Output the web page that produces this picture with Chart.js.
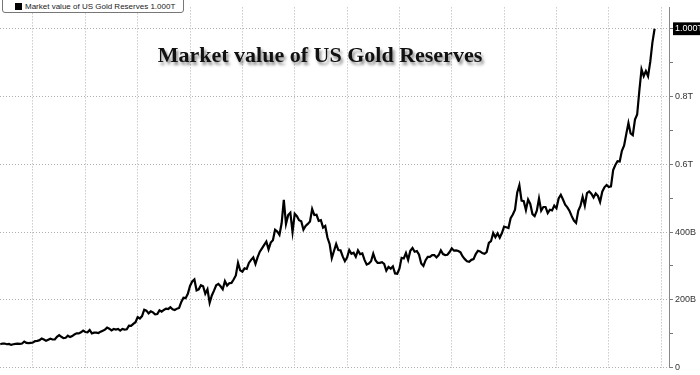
<!DOCTYPE html>
<html>
<head>
<meta charset="utf-8">
<script src="https://cdn.jsdelivr.net/npm/chart.js@4"></script>
<style>
  html, body { margin: 0; padding: 0; background: #fff; }
  #wrap { position: relative; width: 700px; height: 375px; }
  #legend {
    position: absolute; left: 2px; top: -3px; height: 16px; width: 182px;
    border: 1px solid #777; border-radius: 3px; background: #fff;
    font: 8px "Liberation Sans", Arial, sans-serif; color: #222;
    box-sizing: border-box; padding: 4px 0 0 4px; white-space: nowrap;
  }
  #legend .sw { display: inline-block; width: 7px; height: 7px; background: #000; vertical-align: -1px; margin: 0 3px 0 8px; }
  #title {
    position: absolute; left: 0; width: 640px; top: 42px; text-align: center;
    font: bold 22px "Liberation Serif", "Times New Roman", serif; color: #111;
    text-shadow: 2px 3px 3px rgba(0,0,0,0.45);
  }
</style>
</head>
<body>
<div id="wrap">
  <canvas id="chart" width="700" height="375"></canvas>
  <div id="legend"><span class="sw"></span>Market value of US Gold Reserves 1.000T</div>
  <div id="title">Market value of US Gold Reserves</div>
</div>
<script>
// monthly market value, billions USD, starting Oct 2000
const startYear = 2000.75;
const values2000s = [
  69, 71, 71,
  69, 70, 67, 69, 70, 71, 70, 71, 77, 73, 72, 73,
  74, 78, 79, 81, 86, 83, 79, 82, 85, 83, 83, 91,
  96, 91, 87, 88, 94, 90, 93, 98, 101, 101, 104, 109,
  105, 104, 111, 101, 103, 103, 102, 106, 109, 112, 118, 115,
  110, 114, 112, 114, 109, 114, 112, 113, 124, 123, 129, 134,
  149, 145, 152, 171, 168, 160, 166, 163, 157, 158, 169, 165,
  170, 174, 173, 178, 172, 170, 174, 176, 194, 206, 205, 218,
  241, 254, 260, 228, 231, 243, 240, 218, 231, 191, 213, 227,
  243, 247, 240, 231, 255, 242, 249, 250, 260, 272, 309, 287
];
const values2010s = [
  283, 293, 291, 309, 318, 325, 306, 326, 342, 352, 362, 372,
  349, 369, 376, 407, 402, 392, 426, 495, 424, 450, 457, 400,
  454, 447, 435, 432, 407, 418, 424, 431, 468, 450, 451, 433,
  435, 413, 418, 384, 365, 323, 344, 365, 347, 346, 328, 314,
  325, 347, 336, 339, 327, 346, 335, 337, 318, 304, 307, 314,
  336, 317, 309, 309, 311, 306, 286, 297, 292, 299, 278, 277,
  292, 324, 322, 338, 318, 345, 353, 342, 344, 333, 307, 300,
  317, 327, 327, 332, 332, 325, 332, 346, 335, 332, 333, 341,
  352, 345, 346, 344, 340, 328, 320, 314, 312, 318, 320, 335,
  345, 343, 338, 336, 341, 368, 373, 397, 385, 396, 383, 397
];
const values2020s = [
  416, 414, 412, 441, 452, 466, 516, 538, 493, 491, 465, 496,
  483, 453, 447, 463, 499, 463, 474, 474, 456, 466, 464, 478,
  470, 499, 510, 496, 481, 473, 462, 447, 434, 427, 463, 477,
  504, 478, 515, 520, 513, 502, 514, 507, 489, 519, 532, 539,
  533, 535, 583, 598, 609, 608, 640, 655, 689, 722, 691, 686,
  732, 747, 817, 880, 860, 875, 860, 902, 960, 1000
];
const values = values2000s.concat(values2010s, values2020s);

const yTicks = [0, 100, 200, 300, 400, 500, 600, 700, 800, 900, 1000];
const yLabels = { 0: '0', 200: '200B', 400: '400B', 600: '0.6T', 800: '0.8T', 1000: '1.000T' };
const xGridYears = [2002, 2004, 2006, 2008, 2010, 2012, 2014, 2016, 2018, 2020, 2022, 2024, 2026];

const points = values.map((v, i) => ({ x: startYear + i / 12, y: v }));

new Chart(document.getElementById('chart'), {
  type: 'line',
  data: {
    datasets: [{
      data: points,
      borderColor: '#000',
      borderWidth: 2.2,
      pointRadius: 0,
      tension: 0,
      fill: false
    }]
  },
  options: {
    responsive: false,
    animation: false,
    layout: { padding: 0 },
    plugins: { legend: { display: false }, tooltip: { enabled: false } },
    scales: {
      x: {
        type: 'linear',
        min: 2000.74,
        max: 2026.3,
        afterBuildTicks: s => { s.ticks = xGridYears.map(v => ({ value: v })); },
        afterFit: s => { s.height = 5; },
        ticks: { display: false },
        grid: { color: '#b0b0b0', lineWidth: 1, drawTicks: false },
        border: { display: false, dash: [1, 2] }
      },
      y: {
        position: 'right',
        min: 0,
        max: 1063,
        afterBuildTicks: s => { s.ticks = yTicks.map(v => ({ value: v })); },
        afterFit: s => { s.width = 31; },
        ticks: {
          padding: 2,
          font: { family: '"Liberation Sans", Arial, sans-serif', size: 9 },
          color: ctx => ctx.tick.value === 1000 ? '#fff' : '#333',
          showLabelBackdrop: ctx => ctx.tick.value === 1000,
          backdropColor: '#000',
          backdropPadding: { x: 2, y: 1 },
          callback: v => yLabels[v] !== undefined ? yLabels[v] : ''
        },
        grid: {
          color: ctx => (ctx.tick && ctx.tick.value % 200 === 0) ? '#b0b0b0' : 'rgba(0,0,0,0)',
          tickColor: '#777',
          tickLength: 4,
          lineWidth: 1
        },
        border: { display: true, color: '#888', width: 1, dash: [1, 2] }
      }
    }
  }
});
</script>
</body>
</html>
